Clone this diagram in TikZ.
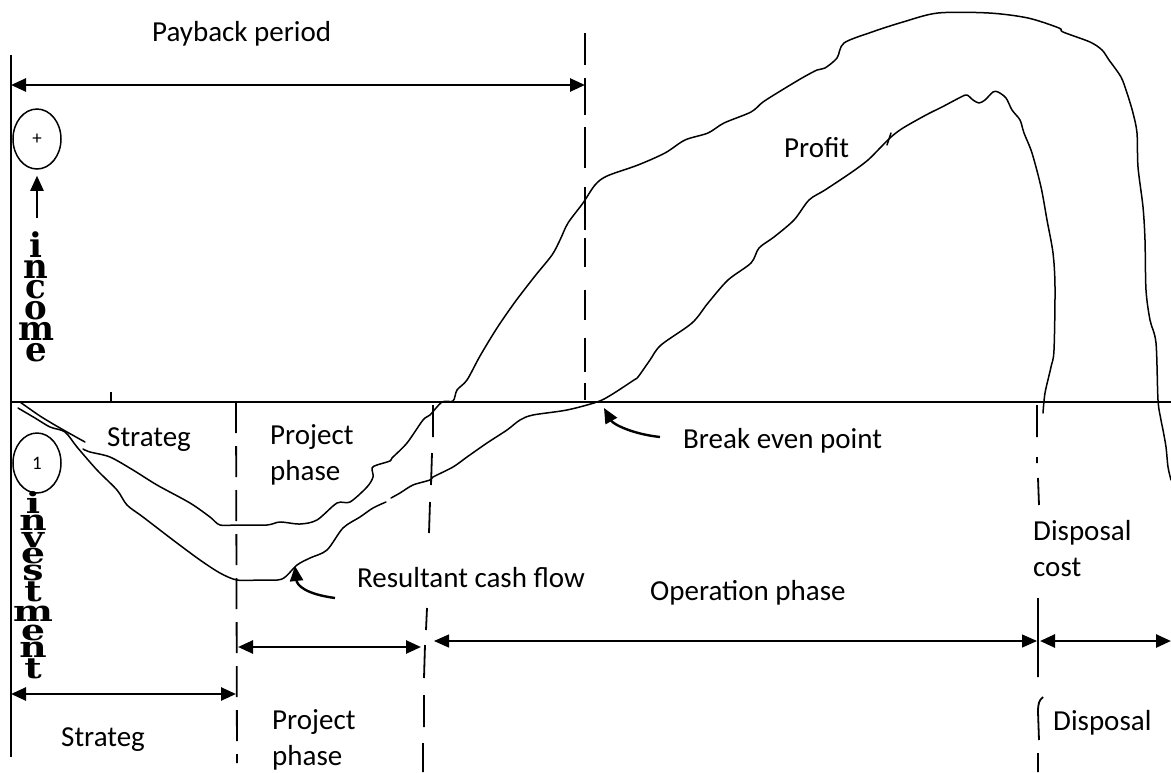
\documentclass[tikz,border=0pt]{standalone}
\usepackage{fontspec}
\setmainfont{Carlito}
\newfontfamily\slab{DejaVu Serif}
\usetikzlibrary{arrows.meta,shapes.geometric}
\newcommand\lblfont{\fontsize{29}{36}\selectfont}
\newcommand\signfont{\fontsize{19}{22}\selectfont}
\newcommand\wide[1]{\scalebox{1.3}[1]{#1}}
\begin{document}
\begin{tikzpicture}[x=1pt,y=-1pt,
  >={Triangle[length=15pt,width=13pt]},
  curve/.style={line width=1.5pt,line join=round,line cap=round},
  axisline/.style={line width=1.7pt},
  guide/.style={line width=1.8pt},
  span/.style={line width=2.6pt,<->},
  pointer/.style={line width=2.4pt,->},
  lbl/.style={inner sep=0pt,font=\lblfont},
  sign/.style={draw,ellipse,line width=1.5pt,minimum width=48pt,minimum height=60pt,inner sep=0pt,font=\signfont},
  stack/.style={inner sep=0pt,anchor=south,align=center}]

\fill[white] (0,0) rectangle (1171,772);
\useasboundingbox (0,0) rectangle (1171,772);

% axes
\coordinate (axTop) at (11,55);
\coordinate (axBot) at (11,757);
\coordinate (axL) at (11,402);
\coordinate (axR) at (1171,402);
\draw[axisline] (axTop) -- (axBot);
\draw[axisline] (axL) -- (axR);
\draw[axisline] (111,392) -- (111,402);

% phase boundaries
\draw[guide] (585,33) -- (585,65) (585,78) -- (585,115) (585,127) -- (585,168)
  (585,187) -- (585,230) (585,238) -- (585,267) (585,290) -- (585,320)
  (585,338) -- (585,372) (585,383) -- (585,400);
\draw[guide,dash pattern=on 31pt off 13pt] (236,402) -- (237,763);
\draw[guide] (433,405) -- (433,437) (432,453) -- (431,485) (430,502) -- (429,533)
  (427,608) -- (426,630) (425,645) -- (424,678) (424,695) -- (424,727) (423,743) -- (423,772);
\draw[guide] (1037,405) -- (1037,437) (1037,457) -- (1037,463) (1038,478) -- (1039,505)
  (1038,598) -- (1038,677) (1038,753) -- (1038,772);
\draw[guide] (1043,697) .. controls (1039,700) and (1038,704) .. (1038,712) -- (1039,740);

% spans
\coordinate (pbL) at (11,85);   \coordinate (pbR) at (585,85);
\coordinate (stL) at (11,694);  \coordinate (stR) at (236,694);
\coordinate (prL) at (238,647); \coordinate (prR) at (421,647);
\coordinate (opL) at (434,641); \coordinate (opR) at (1037,641);
\coordinate (opA) at (448,641); \coordinate (opB) at (627,641);
\coordinate (opC) at (907,641); \coordinate (opD) at (1022,641);
\coordinate (dsL) at (1040,641); \coordinate (dsR) at (1171,641);
\draw[span] (pbL) -- (pbR);
\draw[span] (stL) -- (stR);
\draw[span] (prL) -- (prR);
\draw[line width=1.3pt,<->] (opL) -- (opR);
\draw[line width=2.6pt] (opA) -- (opB) (opC) -- (opD);
\draw[span] (dsL) -- (dsR);

% signs on the vertical axis
\node[sign] (plus) at (37,139) {+};
\node[sign] (minus) at (37,463) {1};
\coordinate (upTail) at (37,218);
\draw[line width=2.4pt,->,shorten >=6pt] (upTail) -- (plus.south);

\node[stack,font=\fontsize{34}{20.8}\slab\bfseries] (income) at (36,362)
  {i\\n\\c\\o\\m\\e};
\node[stack,font=\fontsize{29}{16.7}\slab\bfseries] (investment) at (33,679)
  {\wide{i}\\\wide{n}\\\wide{v}\\\wide{e}\\\wide{s}\\\wide{t}\\[3pt]\wide{m}\\[3pt]\wide{e}\\\wide{n}\\\wide{t}};

% cash flow curves
\draw[curve] plot[smooth,tension=0.5] coordinates {(20,402) (40,416) (60,428) (85,442)};
\draw[curve] plot[smooth,tension=0.5] coordinates {(83,449) (90,452) (110,457) (133,470)
  (157,485) (190,503) (210,517) (220,525) (237,525) (267,525) (280,522) (300,524)
  (317,520) (337,503) (350,502) (367,487) (373,477) (372,468) (377,465) (390,461)
  (392,458) (407,443) (423,420) (430,415) (442,402) (453,401) (457,390) (467,380)
  (480,356) (497,328) (515,302) (535,276) (552,255) (560,240) (568,223) (583,203)
  (595,185) (607,176) (638,165) (665,153) (685,140) (708,133) (724,123) (751,112)
  (763,102) (782,90) (802,78) (817,70) (825,68) (837,58) (844,43) (872,32) (903,22)
  (938,13) (989,13) (1028,18) (1059,28) (1063,32) (1090,42) (1102,50) (1109,60)
  (1121,77) (1127,93) (1133,113) (1137,133) (1138,167) (1143,207) (1145,240)
  (1146,290) (1150,320) (1156,343) (1158,400) (1161,420) (1163,430) (1166,447)
  (1168,467) (1171,480)};
\draw[curve] plot[smooth,tension=0.5] coordinates {(18,408) (35,418) (50,427) (65,432)
  (77,447) (97,470) (117,490) (127,505) (143,517) (173,540) (200,560) (220,573)
  (237,580) (260,580) (282,579) (297,565) (310,558) (327,550) (343,528) (360,517)
  (373,508) (386,502)};
\draw[curve] plot[smooth,tension=0.5] coordinates {(391,498) (400,493) (413,485)
  (430,480) (433,477) (453,467) (467,457) (487,443) (507,430) (520,420) (533,415)
  (567,410) (597,402) (611,395) (634,380) (638,377) (650,360) (661,345) (692,323)
  (708,303) (728,280) (751,263) (759,248) (774,237) (794,220) (809,200) (825,190)
  (852,172) (868,160) (880,148) (891,137) (903,128) (926,115) (942,107) (961,97)
  (967,95) (973,100) (979,103) (985,100) (993,92) (998,92) (1006,98) (1012,110)
  (1020,120) (1024,133) (1032,153) (1041,187) (1047,220) (1053,253) (1055,287)
  (1054,350) (1051,367) (1045,393) (1043,413)};
\draw[curve] (887,145) -- (891,133);

% labels
\node[lbl,anchor=base west] (payback) at (152,41) {Payback period};
\node[lbl,anchor=base west] (profit) at (784,157) {Profit};
\node[lbl,anchor=base west] (strTop) at (107,446) {Strateg};
\node[lbl,anchor=north west,align=left] (prTop) at (270,424) {Project\\phase};
\node[lbl,anchor=base west] (result) at (357,587) {Resultant cash flow};
\node[lbl,anchor=base west] (breakeven) at (683,448) {Break even point};
\node[lbl,anchor=base west] (operation) at (650,600) {Operation phase};
\node[lbl,anchor=north west,align=left] (dispTop) at (1033,520) {Disposal\\cost};
\node[lbl,anchor=base west] (strBot) at (61,746) {Strateg};
\node[lbl,anchor=north west,align=left] (prBot) at (272,709) {Project\\phase};
\node[lbl,anchor=base west] (dispBot) at (1053,730) {Disposal};

% pointers to the curves
\coordinate (rcTail) at (335,598); \coordinate (rcTip) at (295,566);
\draw[pointer] (rcTail) .. controls (305,594) and (297,585) .. (rcTip);
\coordinate (beTail) at (660,437); \coordinate (beTip) at (604,408);
\draw[pointer] (beTail) .. controls (632,434) and (613,424) .. (beTip);
\end{tikzpicture}
\end{document}
